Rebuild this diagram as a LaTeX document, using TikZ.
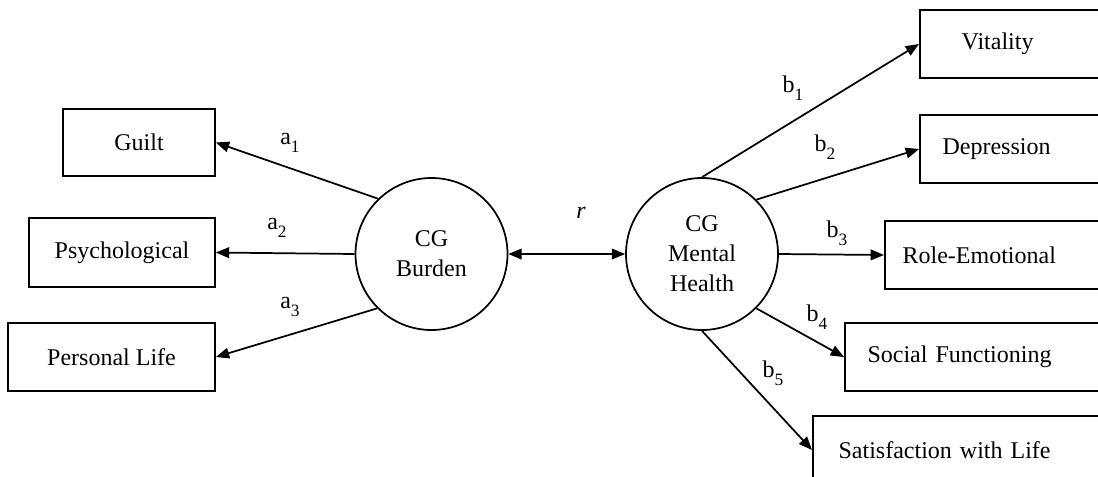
\documentclass[tikz,border=0pt]{standalone}
\usepackage{fontspec}
\setmainfont{Liberation Serif}
\usetikzlibrary{arrows.meta}
\newcommand{\lsub}[1]{\raisebox{-6pt}{\fontsize{13}{13}\selectfont #1}}
\begin{document}
\begin{tikzpicture}[x=0.75pt,y=-0.75pt,
  every node/.style={font=\fontsize{18}{22.5}\selectfont},
  lbox/.style={draw,line width=1.3pt,rectangle,inner sep=0pt,align=center},
  rbox/.style={draw,line width=1.3pt,rectangle,anchor=west,inner ysep=0pt,minimum height=51pt,text width=200pt,align=left},
  latent/.style={draw,line width=1.3pt,circle,minimum size=114pt,inner sep=0pt,align=center},
  conn/.style={line width=1.3pt,-{Triangle[length=10pt,width=8pt]}},
  dconn/.style={line width=1.3pt,{Triangle[length=10pt,width=8pt]}-{Triangle[length=10pt,width=8pt]}},
  coef/.style={inner sep=0pt}]
\useasboundingbox (0,0) rectangle (1098,476);
\clip (0,0) rectangle (1098,476);
% left boxes
\node[lbox,minimum width=114pt,minimum height=50.25pt] (guilt) at (139,142.5) {Guilt};
\node[lbox,minimum width=139.5pt,minimum height=51.75pt] (psy) at (122,252.5) {Psychological};
\node[lbox,minimum width=155.25pt,minimum height=51pt] (pl) at (111.5,357) {Personal Life};
% latent variables
\node[latent] (cgb) at (431.5,254) {CG\\Burden};
\node[latent] (cgm) at (702,254) {CG\\Mental\\Health};
% right boxes
\node[rbox,inner xsep=31.3pt] (vit) at (919,44) {Vitality};
\node[rbox,inner xsep=17pt] (dep) at (919,149) {Depression};
\node[rbox,inner xsep=13.3pt] (role) at (884,255) {Role-Emotional};
\node[rbox,inner xsep=17pt] (soc) at (844,357) {Social Functioning};
\node[rbox,inner xsep=19.3pt] (sat) at (812,450) {Satisfaction with Life};
% connectors
\draw[conn] (cgb.134) -- (guilt.east);
\draw[conn] (cgb.west) -- (psy.east);
\draw[conn] (cgb.225) -- (pl.east);
\draw[dconn] (cgb.east) -- (cgm.west);
\draw[conn] (cgm.north) -- (vit.west);
\draw[conn] (cgm.45) -- (dep.west);
\draw[conn] (cgm.east) -- (role.west);
\draw[conn] (cgm.-45) -- (soc.west);
\draw[conn] (cgm.south) -- (sat.west);
% labels
\node[coef] (la1) at (290,143) {a\lsub{1}};
\node[coef] (la2) at (277,228) {a\lsub{2}};
\node[coef] (la3) at (290,307) {a\lsub{3}};
\node[coef] (lr) at (581,213) {\itshape r};
\node[coef] (lb1) at (793,88) {b\lsub{1}};
\node[coef] (lb2) at (825,147) {b\lsub{2}};
\node[coef] (lb3) at (837,233) {b\lsub{3}};
\node[coef] (lb4) at (817,317) {b\lsub{4}};
\node[coef] (lb5) at (773,373) {b\lsub{5}};
\end{tikzpicture}
\end{document}
